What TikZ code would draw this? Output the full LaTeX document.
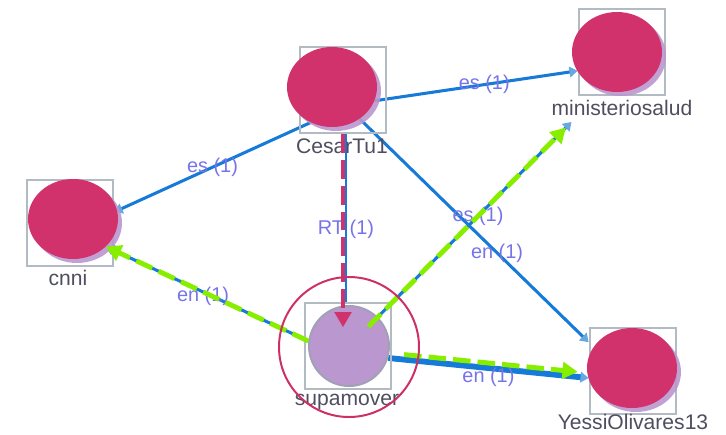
\documentclass[tikz,border=0pt]{standalone}
\usepackage{fontspec}
\setmainfont{Liberation Sans}
\usetikzlibrary{arrows.meta,shapes.geometric,shadows,backgrounds}
\definecolor{vpink}{RGB}{210,50,108}
\definecolor{vlav}{RGB}{186,151,206}
\definecolor{vrim}{RGB}{160,160,182}
\definecolor{eblue}{RGB}{22,122,216}
\definecolor{ehead}{RGB}{104,168,226}
\definecolor{egreen}{RGB}{136,238,0}
\definecolor{ringred}{RGB}{204,48,100}
\definecolor{boxgray}{RGB}{178,186,196}
\definecolor{labtext}{RGB}{78,78,96}
\definecolor{edgetext}{RGB}{118,116,232}
\begin{document}
\begin{tikzpicture}[x=0.03cm,y=-0.03cm,
  vbox/.style={draw=boxgray,line width=1.7pt,minimum size=2.6cm,inner sep=0},
  vdot/.style={ellipse,fill=vpink,minimum width=2.7cm,minimum height=2.4cm,inner sep=0,
    drop shadow={shadow xshift=3.4pt,shadow yshift=-3.4pt,fill=vlav,opacity=.9}},
  vlabel/.style={font=\fontsize{18}{18}\selectfont,text=labtext,inner sep=0},
  elabel/.style={font=\fontsize{17}{17}\selectfont,text=edgetext,inner sep=0},
  blink/.style={eblue,line width=2.6pt,-{Triangle[length=7pt,width=9pt,color=ehead]}},
  glink/.style={egreen,line width=4.2pt,dash pattern=on 15pt off 6pt,-{Triangle[length=13pt,width=14pt]}},
  rlink/.style={vpink,line width=3.8pt,dash pattern=on 16pt off 6pt,-{Triangle[length=13pt,width=14pt]}}]
\useasboundingbox (0,0) rectangle (726,434);
\node[vbox] (cesarB) at (343,90) {};
\node[vbox] (cnniB) at (70,223) {};
\node[vbox] (miniB) at (622,52) {};
\node[vbox] (supaB) at (348,346) {};
\node[vbox] (yessiB) at (633,371) {};
\node[vdot] (cesarD) at (332,87) {};
\node[vdot] (cnniD) at (73,219) {};
\node[vdot] (miniD) at (617,52) {};
\node[vdot] (yessiD) at (632,368) {};
\node[circle,fill=vlav,draw=vrim,line width=1.7pt,minimum size=2.4cm,inner sep=0] (supaD) at (349,346) {};
\node[vlabel] (cesarL) at (342,146) {CesarTu1};
\node[vlabel] (cnniL) at (68,278) {cnni};
\node[vlabel] (miniL) at (622,108) {ministeriosalud};
\node[vlabel] (supaL) at (347,402) {supamover};
\node[vlabel] (yessiL) at (633,422) {YessiOlivares13};
\begin{pgfonlayer}{background}
\draw[blink] (cesarD.239) -- node[elabel]{es (1)} (cnniB.14);
\draw[blink] (cesarD.-18) -- node[elabel,pos=.54]{es (1)} (miniB.203);
\draw[blink] (cesarD.-49) -- node[elabel,pos=.6]{en (1)} (yessiB.147);
\draw[blink,line width=1.7pt,-] ([shift={(3,0)}]cesarB.south) -- node[elabel,pos=.57]{RT (1)} ([shift={(-2,0)}]supaB.north);
\draw[blink] (supaD.173) -- node[elabel,pos=.52,yshift=-4pt]{en (1)} (cnniD.-40);
\draw[blink,line width=5pt] (supaD.-17) -- node[elabel,yshift=-8pt]{en (1)} (yessiB.189);
\draw[blink] (supaD.center) -- node[elabel,pos=.58]{es (1)} ([shift={(20,6)}]miniL.south west);
\end{pgfonlayer}
\draw[rlink,shorten >=16pt] (cesarB.south) -- (cesarB.south |- supaD.center);
\draw[glink] (supaD.173) -- (cnniD.-40);
\draw[glink,shorten <=13.6pt,shorten >=9.4pt] ([shift={(0,-5)}]supaD.-17) -- ([shift={(0,-5)}]yessiB.189);
\draw[glink,shorten <=23.5pt,shorten >=6.6pt] (supaD.center) -- ([shift={(20,6)}]miniL.south west);
\node[circle,draw=ringred,line width=1.7pt,minimum size=4.2cm] (supaR) at (349,347) {};
\end{tikzpicture}
\end{document}
